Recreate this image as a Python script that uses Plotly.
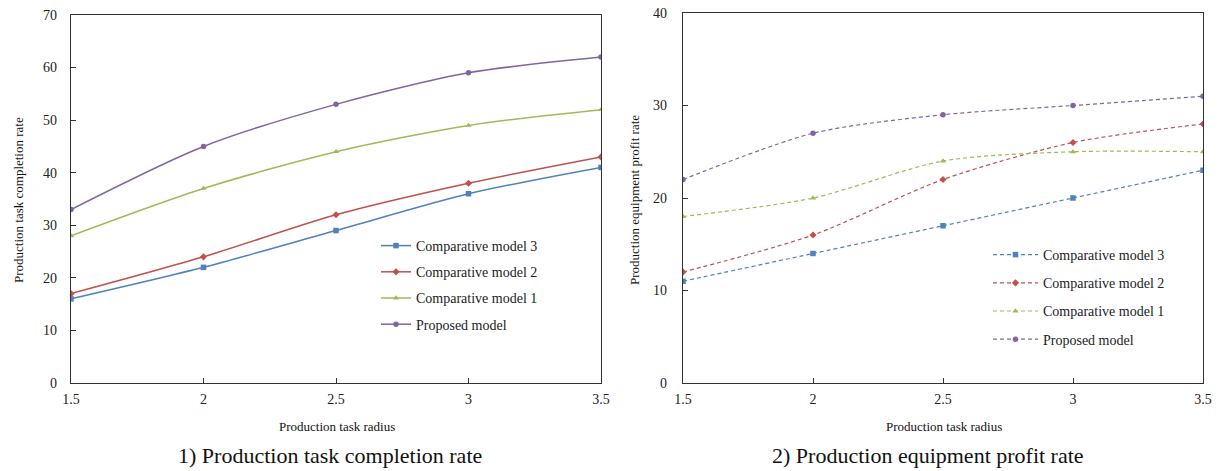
import plotly.graph_objects as go

x_vals = [1.5, 2, 2.5, 3, 3.5]
series_names = ["Comparative model 3", "Comparative model 2", "Comparative model 1", "Proposed model"]

completion_m3 = [16, 22, 29, 36, 41]
completion_m2 = [17, 24, 32, 38, 43]
completion_m1 = [28, 37, 44, 49, 52]
completion_prop = [33, 45, 53, 59, 62]

profit_m3 = [11, 14, 17, 20, 23]
profit_m2 = [12, 16, 22, 26, 28]
profit_m1 = [18, 20, 24, 25, 25]
profit_prop = [22, 27, 29, 30, 31]

colors = ["#4F81BD", "#C0504D", "#9BBB59", "#8064A2"]
symbols = ["square", "diamond", "triangle-up", "circle"]
FONT = "Times New Roman, Liberation Serif, serif"

fig = go.Figure()

left = [completion_m3, completion_m2, completion_m1, completion_prop]
right = [profit_m3, profit_m2, profit_m1, profit_prop]

for i, (name, ys) in enumerate(zip(series_names, left)):
    fig.add_trace(go.Scatter(
        x=x_vals, y=ys, name=name, mode="lines+markers",
        line=dict(color=colors[i], width=1.5, shape="spline", smoothing=0.8),
        marker=dict(symbol=symbols[i], size=5.5, color=colors[i]),
        xaxis="x", yaxis="y", legend="legend", legendgroup="L%d" % i,
    ))
for i, (name, ys) in enumerate(zip(series_names, right)):
    fig.add_trace(go.Scatter(
        x=x_vals, y=ys, name=name, mode="lines+markers",
        line=dict(color=colors[i], width=1.2, dash="4px,3px", shape="spline", smoothing=0.8),
        marker=dict(symbol=symbols[i], size=5.5, color=colors[i]),
        xaxis="x2", yaxis="y2", legend="legend2", legendgroup="R%d" % i,
    ))

W, H = 1222, 471

def px_x(p):
    return p / W

def px_y(p):
    return 1 - p / H

axis_common = dict(
    showline=True, linecolor="#333", linewidth=1.2, mirror=True,
    ticks="inside", ticklen=5, tickcolor="#333",
    showgrid=False, zeroline=False, automargin=False,
    tickfont=dict(family=FONT, size=14, color="#222"),
)

def ann(text, x, y, size, angle=0):
    return dict(text=text, x=px_x(x), y=px_y(y), xref="paper", yref="paper",
                showarrow=False, textangle=angle,
                font=dict(family=FONT, size=size, color="#111"),
                xanchor="center", yanchor="middle")

fig.update_layout(
    width=W, height=H,
    margin=dict(l=0, r=0, t=0, b=0),
    paper_bgcolor="white", plot_bgcolor="white",
    font=dict(family=FONT, color="#222"),
    xaxis=dict(domain=[px_x(71), px_x(601)], range=[1.5, 3.5],
               tickvals=[1.5, 2, 2.5, 3, 3.5], ticktext=["1.5", "2", "2.5", "3", "3.5"],
               anchor="y", ticklabelstandoff=3, **axis_common),
    yaxis=dict(domain=[px_y(383), px_y(15)], range=[0, 70], dtick=10, anchor="x",
               ticklabelstandoff=10, **axis_common),
    xaxis2=dict(domain=[px_x(683), px_x(1203)], range=[1.5, 3.5],
                tickvals=[1.5, 2, 2.5, 3, 3.5], ticktext=["1.5", "2", "2.5", "3", "3.5"],
                anchor="y2", ticklabelstandoff=3, **axis_common),
    yaxis2=dict(domain=[px_y(383), px_y(13)], range=[0, 40], dtick=10, anchor="x2",
                ticklabelstandoff=12, **axis_common),
    legend=dict(x=px_x(376), y=px_y(230), xanchor="left", yanchor="top",
                font=dict(family=FONT, size=14, color="#222"), bgcolor="rgba(0,0,0,0)",
                traceorder="grouped", tracegroupgap=5, itemwidth=30),
    legend2=dict(x=px_x(988), y=px_y(239), xanchor="left", yanchor="top",
                 font=dict(family=FONT, size=14, color="#222"), bgcolor="rgba(0,0,0,0)",
                 traceorder="grouped", tracegroupgap=7, itemwidth=45),
    annotations=[
        ann("Production task completion rate", 18, 200, 13, -90),
        ann("Production equipment profit rate", 634, 200, 13, -90),
        ann("Production task radius", 337, 426, 13),
        ann("Production task radius", 944, 426, 13),
        ann("1) Production task completion rate", 330, 455, 22),
        ann("2) Production equipment profit rate", 928, 455, 22),
    ],
)

fig.write_html("out.html", config={"displayModeBar": False},
               post_script="document.body.style.margin='0';document.body.style.overflow='hidden';")
